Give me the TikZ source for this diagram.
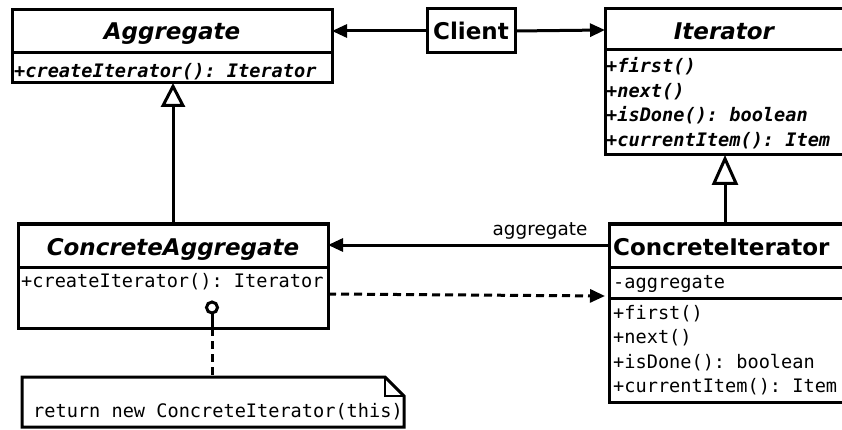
\documentclass[tikz,border=0pt]{standalone}
\usepackage{fontspec}
\setmainfont{DejaVu Sans}
\setmonofont{DejaVu Sans Mono}
\usetikzlibrary{arrows.meta,calc}
\tikzset{
  cls/.style={draw, line width=3pt, rectangle, inner sep=0pt, outer sep=0pt, anchor=north west, fill=white},
  divider/.style={line width=3pt},
  ttl/.style={inner sep=0pt, anchor=base, font=\fontsize{23}{27}\selectfont\bfseries\itshape},
  ttlup/.style={inner sep=0pt, anchor=base west, font=\fontsize{23}{27}\selectfont\bfseries},
  mth/.style={inner sep=0pt, anchor=base west, font=\fontsize{18.6}{22}\selectfont\ttfamily},
  amth/.style={inner sep=0pt, anchor=base west, font=\fontsize{18.6}{22}\selectfont\ttfamily\bfseries\itshape},
  lbl/.style={inner sep=0pt, anchor=base, font=\fontsize{18.4}{22}\selectfont},
  conn/.style={line width=3pt},
  filledtip/.style={-{Triangle[length=15pt,width=13pt]}},
  hollowA/.style={-{Triangle[length=24pt,width=24pt,fill=white]}},
  hollowB/.style={-{Triangle[length=30pt,width=26pt,fill=white]}},
  dashline/.style={dash pattern=on 8pt off 5pt},
}
\begin{document}
\begin{tikzpicture}[x=1pt,y=-1pt]
\useasboundingbox[fill=white] (0,0) rectangle (842,430);

% class boxes
\node[cls, minimum width=320pt, minimum height=73pt] (agg) at (12,10) {};
\node[cls, minimum width=88pt, minimum height=44pt] (client) at (427,9) {};
\node[cls, minimum width=239pt, minimum height=146pt] (iter) at (605,9) {};
\node[cls, minimum width=310pt, minimum height=104pt] (cagg) at (18,224) {};
\node[cls, minimum width=235pt, minimum height=178pt] (citer) at (609,224) {};

% dividers
\draw[divider] ($(agg.north west)+(0,43)$) -- ($(agg.north east)+(0,43)$);
\draw[divider] ($(iter.north west)+(0,41)$) -- ($(iter.north east)+(0,41)$);
\draw[divider] ($(cagg.north west)+(0,43)$) -- ($(cagg.north east)+(0,43)$);
\draw[divider] ($(citer.north west)+(0,43)$) -- ($(citer.north east)+(0,43)$);
\draw[divider] ($(citer.north west)+(0,74)$) -- ($(citer.north east)+(0,74)$);

% texts
\node[ttl] (aggT) at (172,40) {Aggregate};
\node[amth] (aggM) at (14,78) {+createIterator(): Iterator};
\node[ttl, font=\fontsize{23}{27}\selectfont\bfseries] (clientT) at (471,40) {Client};
\node[ttl] (iterT) at (724,40) {Iterator};
\node[amth] (iterM1) at (606,73) {+first()};
\node[amth] (iterM2) at (606,97.5) {+next()};
\node[amth] (iterM3) at (606,122) {+isDone(): boolean};
\node[amth] (iterM4) at (606,146.5) {+currentItem(): Item};
\node[ttl] (caggT) at (173,255) {ConcreteAggregate};
\node[mth] (caggM) at (21,287) {+createIterator(): Iterator};
\node[ttlup] (citerT) at (613,255) {ConcreteIterator};
\node[mth] (citerA) at (613,288) {-aggregate};
\node[mth] (citerM1) at (613,319) {+first()};
\node[mth] (citerM2) at (613,343.5) {+next()};
\node[mth] (citerM3) at (613,368) {+isDone(): boolean};
\node[mth] (citerM4) at (613,392.5) {+currentItem(): Item};

% note
\path node[inner sep=0pt, outer sep=0pt, minimum width=382pt, minimum height=50pt, anchor=north west] (note) at (22,377) {};
\draw[line width=3pt, fill=white, line join=miter] (note.north west) -- ($(note.north east)+(-19,0)$) -- ($(note.north east)+(0,19)$) -- (note.south east) -- (note.south west) -- cycle;
\draw[line width=1.5pt] ($(note.north east)+(-19,0)$) -- ($(note.north east)+(-19,19)$) -- ($(note.north east)+(0,19)$);
\node[mth] (noteT) at (33,417) {return new ConcreteIterator(this)};

% lollipop and note link
\node[circle, draw, line width=3pt, minimum size=11pt, inner sep=0pt, outer sep=0pt, fill=white] (lolly) at (212,307.5) {};
\draw[conn] (lolly.south) -- (lolly.south |- cagg.south);
\draw[conn, dashline] (lolly.south |- cagg.south) -- (lolly.south |- note.north);

% connectors
\draw[conn, filledtip] (client.west) -- (client.west -| agg.east);
\draw[conn, filledtip] (client.east) -- ($(iter.north west)+(0,21)$);
\draw[conn, hollowA] (cagg.north) -- (cagg.north |- agg.south);
\coordinate (ci) at ($(citer.north west)+(116,0)$);
\draw[conn, hollowB] (ci) -- (ci |- iter.south);
\coordinate (asrc) at ($(citer.north west)+(0,21)$);
\draw[conn, filledtip] (asrc) -- (asrc -| cagg.east);
\node[lbl] (assocL) at (540,235) {aggregate};
\coordinate (ds) at ($(cagg.north east)+(0,70)$);
\coordinate (de) at ($(citer.north west)+(-4,72)$);
\draw[conn, dashline, filledtip] (ds) -- (de);
\end{tikzpicture}
\end{document}
